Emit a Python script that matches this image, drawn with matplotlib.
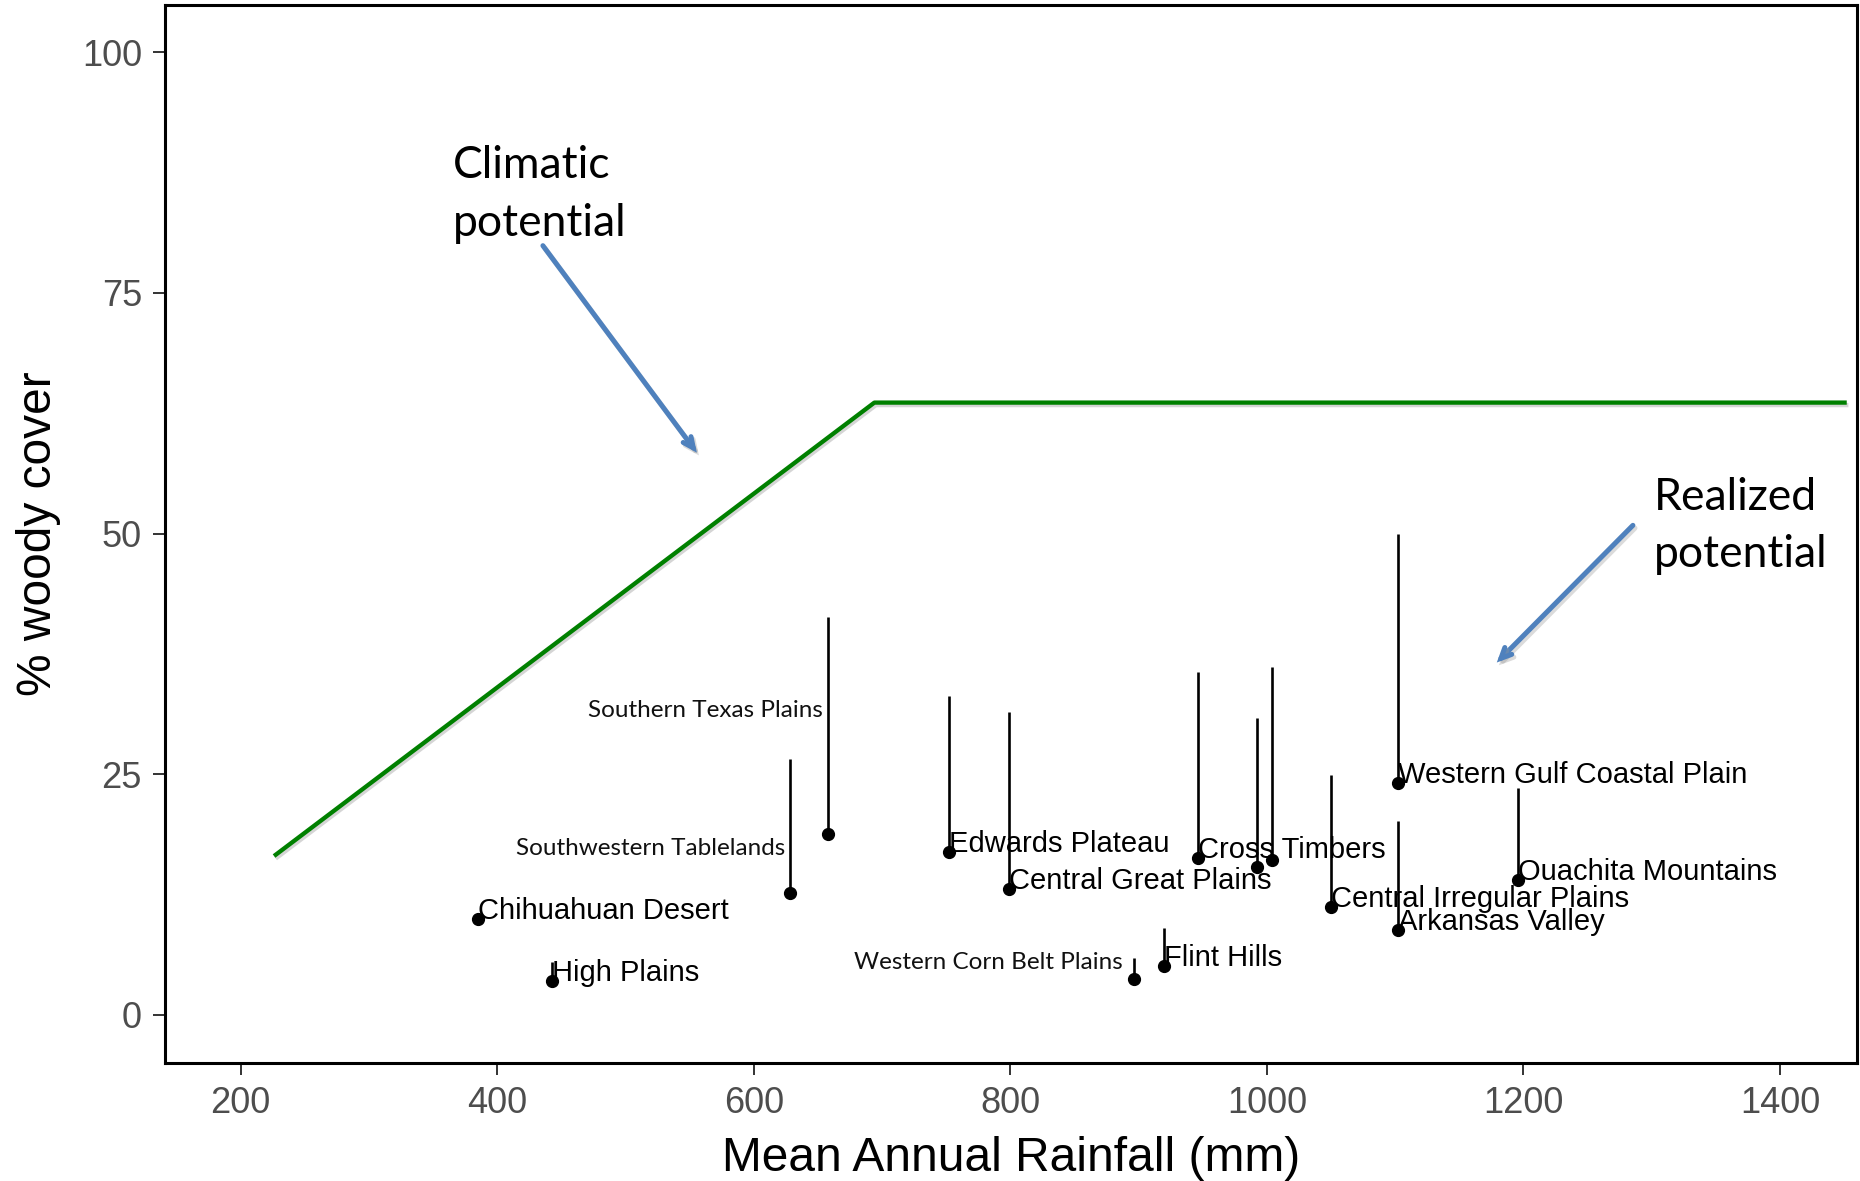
import matplotlib
matplotlib.use("Agg")
import matplotlib.pyplot as plt
import matplotlib.patheffects as pe
from matplotlib import font_manager as fm

# ---------------- data ----------------
regions = ["Chihuahuan Desert", "High Plains", "Southwestern Tablelands",
           "Southern Texas Plains", "Edwards Plateau", "Central Great Plains",
           "Western Corn Belt Plains", "Flint Hills", "Cross Timbers", "", "",
           "Central Irregular Plains", "Western Gulf Coastal Plain",
           "Arkansas Valley", "Ouachita Mountains"]
rainfall = [385, 443, 628, 658, 752, 799, 896, 920, 946, 992, 1004, 1050, 1102, 1102, 1196]
realized_cover = [10.0, 3.5, 12.7, 18.8, 16.9, 13.1, 3.7, 5.1, 16.3, 15.4, 16.1, 11.2, 24.1, 8.8, 14.0]
upper_cover = [10.0, 5.5, 26.6, 41.3, 33.1, 31.5, 5.9, 9.0, 35.6, 30.8, 36.1, 24.9, 50.0, 20.1, 23.6]

climate_x = [226, 694, 1452]
climate_y = [16.5, 63.6, 63.6]

x_ticks = [200, 400, 600, 800, 1000, 1200, 1400]
y_ticks = [0, 25, 50, 75, 100]

# regions whose labels are drawn as separate right-aligned text boxes
boxed_labels = {"Southern Texas Plains": 30.9,
                "Southwestern Tablelands": 16.6,
                "Western Corn Belt Plains": 4.8}

# ---------------- fonts ----------------
avail = {f.name for f in fm.fontManager.ttflist}
sans = "Liberation Sans" if "Liberation Sans" in avail else "DejaVu Sans"
callout = "Lato" if "Lato" in avail else ("Open Sans" if "Open Sans" in avail else "DejaVu Sans")
plt.rcParams["font.family"] = [sans, "DejaVu Sans"]

W, H, DPI = 1860, 1181, 100
fig = plt.figure(figsize=(W / DPI, H / DPI), dpi=DPI)
ax = fig.add_axes([165 / W, 1 - 1063 / H, (1857 - 165) / W, (1063 - 5) / H])

ax.set_xlim(141, 1460)
ax.set_ylim(-5, 104.9)

shadow = [pe.SimpleLineShadow(offset=(1.2, -1.8), shadow_color="#888888", alpha=0.35),
          pe.Normal()]

# climatic potential line
ax.plot(climate_x, climate_y, color="#008000", lw=3.1, solid_capstyle="butt",
        path_effects=shadow, zorder=3)

# stems and points
ax.vlines(rainfall, realized_cover, upper_cover, color="black", lw=1.9, zorder=4)
ax.plot(rainfall, realized_cover, "o", color="black", ms=8.5, zorder=5)

for name, x, y in zip(regions, rainfall, realized_cover):
    if not name:
        continue
    if name in boxed_labels:
        off = -8 if name == "Western Corn Belt Plains" else -3.5
        ax.annotate(name, (x, boxed_labels[name]), xytext=(off, 0),
                    textcoords="offset points", ha="right", va="baseline",
                    fontsize=17.5, family=[callout, "DejaVu Sans"], color="#111111",
                    zorder=6)
    else:
        ax.text(x, y, name, ha="left", va="baseline", fontsize=21,
                color="black", zorder=6)

# call-outs
ax.text(365.5, 86.9, "Climatic", fontsize=32, family=[callout, "DejaVu Sans"],
        ha="left", va="baseline")
ax.text(365.5, 80.9, "potential", fontsize=32, family=[callout, "DejaVu Sans"],
        ha="left", va="baseline")
ax.text(1302, 52.4, "Realized", fontsize=32, family=[callout, "DejaVu Sans"],
        ha="left", va="baseline")
ax.text(1302, 46.5, "potential", fontsize=32, family=[callout, "DejaVu Sans"],
        ha="left", va="baseline")

arrow_color = "#4F81BD"
for tail, tip in [((435.6, 79.9), (555.6, 58.4)), ((1285.3, 50.85), (1179.2, 36.6))]:
    ann = ax.annotate("", xy=tip, xytext=tail,
                      arrowprops=dict(arrowstyle="->,head_length=0.75,head_width=0.35",
                                      color=arrow_color, lw=3.6,
                                      capstyle="round", joinstyle="miter",
                                      shrinkA=0, shrinkB=0))
    ann.arrow_patch.set_path_effects(
        [pe.SimpleLineShadow(offset=(1.5, -2), shadow_color="#999999", alpha=0.35),
         pe.Normal()])

# axes styling
ax.set_xticks(x_ticks)
ax.set_yticks(y_ticks)
ax.set_xticklabels([str(v) for v in x_ticks])
ax.set_yticklabels([str(v) for v in y_ticks])
ax.tick_params(axis="both", which="major", length=8.6, width=1.4, color="#333333",
               labelsize=26, labelcolor="#4D4D4D", pad=8)
for sp in ax.spines.values():
    sp.set_linewidth(2.2)
    sp.set_color("black")

ax.set_xlabel("Mean Annual Rainfall (mm)", fontsize=34.5, color="black", labelpad=11)
ax.set_ylabel("% woody cover", fontsize=34.5, color="black", labelpad=15)

fig.savefig("out.png", dpi=DPI, facecolor="white")
